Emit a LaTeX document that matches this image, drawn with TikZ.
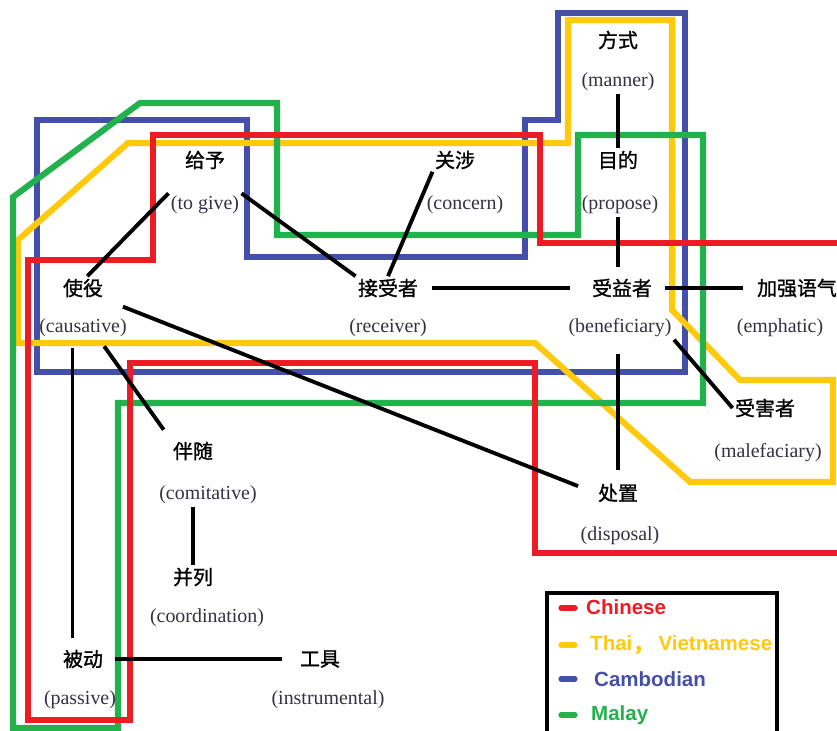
\documentclass[tikz,border=0pt]{standalone}
\usepackage{fontspec}
\setmainfont{Liberation Serif}
\newfontfamily\zhfont[FakeBold=1.2]{Noto Sans CJK SC}
\newfontfamily\legfont{Liberation Sans}
\usetikzlibrary{positioning}
\definecolor{zhred}{RGB}{237,28,36}
\definecolor{thyellow}{RGB}{255,201,14}
\definecolor{kmblue}{RGB}{68,79,170}
\definecolor{mygreen}{RGB}{34,177,76}
\definecolor{engray}{RGB}{50,50,65}

\begin{document}
\begin{tikzpicture}[
  x=0.03cm, y=-0.03cm,
  zh/.style={font=\zhfont\fontsize{17}{20}\selectfont, inner sep=2pt},
  en/.style={font=\fontsize{17}{20}\selectfont, text=engray, inner sep=2pt},
  link/.style={line width=3.3pt, black},
  area/.style={line width=5.2pt},
  legtext/.style={font=\legfont\bfseries\fontsize{17.5}{20}\selectfont, anchor=west, inner sep=0pt},
  legdash/.style={line width=4.5pt, line cap=round}
]
\useasboundingbox (0,0) rectangle (837,731);

% language areas
\draw[area, kmblue] (37,120) -- (247,120) -- (247,257) -- (525,257) -- (525,120) -- (558,120) -- (558,13) -- (685,13) -- (685,372) -- (37,372) -- cycle;
\draw[area, thyellow] (128,143) -- (568,143) -- (568,20) -- (672,20) -- (672,310) -- (740,380) -- (833,380) -- (833,482) -- (690,482) -- (535,343) -- (18,343) -- (18,240) -- cycle;
\draw[area, mygreen] (13,197) -- (140,103) -- (277,103) -- (277,235) -- (578,235) -- (578,135) -- (703,135) -- (703,403) -- (118,403) -- (118,728) -- (13,728) -- cycle;
\draw[area, zhred] (153,135) -- (540,135) -- (540,243) -- (860,243) -- (860,553) -- (535,553) -- (535,363) -- (130,363) -- (130,720) -- (28,720) -- (28,260) -- (153,260) -- cycle;

% functions
\node[zh] (gy) at (205,160) {给予};
\node[en] (gy-en) at (205,205) {(to give)};
\node[zh] (gs) at (455,160) {关涉};
\node[en] (gs-en) at (465,205) {(concern)};
\node[zh] (fs) at (618,40) {方式};
\node[en] (fs-en) at (618,82) {(manner)};
\node[zh] (md) at (618,160) {目的};
\node[en] (md-en) at (620,205) {(propose)};
\node[zh] (sy) at (83,288) {使役};
\node[en] (sy-en) at (83,328) {(causative)};
\node[zh] (js) at (388,288) {接受者};
\node[en] (js-en) at (388,328) {(receiver)};
\node[zh] (syz) at (622,288) {受益者};
\node[en] (syz-en) at (620,328) {(beneficiary)};
\node[zh] (jq) at (797,288) {加强语气};
\node[en] (jq-en) at (780,328) {(emphatic)};
\node[zh] (sh) at (765,408) {受害者};
\node[en] (sh-en) at (768,453) {(malefaciary)};
\node[zh] (bs) at (193,451) {伴随};
\node[en] (bs-en) at (208,495) {(comitative)};
\node[zh] (cz) at (618,493) {处置};
\node[en] (cz-en) at (620,536) {(disposal)};
\node[zh] (bl) at (193,577) {并列};
\node[en] (bl-en) at (207,618) {(coordination)};
\node[zh] (bd) at (83,659) {被动};
\node[en] (bd-en) at (80,700) {(passive)};
\node[zh] (gj) at (320,659) {工具};
\node[en] (gj-en) at (328,700) {(instrumental)};

% links
\draw[link] (sy.70) -- (gy-en.north west);
\draw[link] (gy-en.north east) -- (js.north west);
\draw[link] (gs.south west) -- (js.north);
\draw[link, shorten <=10pt, shorten >=17pt] (js.east) -- (syz.west);
\draw[link] (fs-en.south) -- (md.north);
\draw[link, shorten >=8pt] (md.south |- md-en.south) -- (md.south |- syz.north);
\draw[link, shorten <=9pt, shorten >=10pt] (syz.east) -- (jq.west);
\draw[link] (syz-en.south east) -- (sh.west);
\draw[link, shorten <=12pt, shorten >=10pt] (cz.north |- syz-en.south) -- (cz.north);
\draw[link, shorten <=16pt, shorten >=16pt] (sy.south east) -- (cz.west);
\draw[link, shorten <=7pt, shorten >=10pt] ([xshift=14pt]sy-en.south) -- (bs.north west);
\draw[link, shorten <=7pt, shorten >=8pt] ([xshift=-9pt]sy-en.south) -- ([xshift=-9pt]bd.north);
\draw[link] (bl.north |- bs-en.south) -- (bl.north);
\draw[link, shorten <=8pt, shorten >=13pt] (bd.east) -- (gj.west);

% legend
\draw[line width=3.2pt] (547,593) rectangle (777,750);
\draw[legdash, zhred] (561,608) -- (575,608);
\draw[legdash, thyellow] (561,645) -- (575,645);
\draw[legdash, kmblue] (561,679) -- (575,679);
\draw[legdash, mygreen] (561,715) -- (575,715);
\node[legtext, text=zhred] (lg-zh) at (586,607) {Chinese};
\node[legtext, text=thyellow] (lg-th) at (590,645) {Thai{\zhfont ，} Vietnamese};
\node[legtext, text=kmblue] (lg-km) at (594,679) {Cambodian};
\node[legtext, text=mygreen] (lg-ms) at (591,715) {Malay};
\end{tikzpicture}
\end{document}
